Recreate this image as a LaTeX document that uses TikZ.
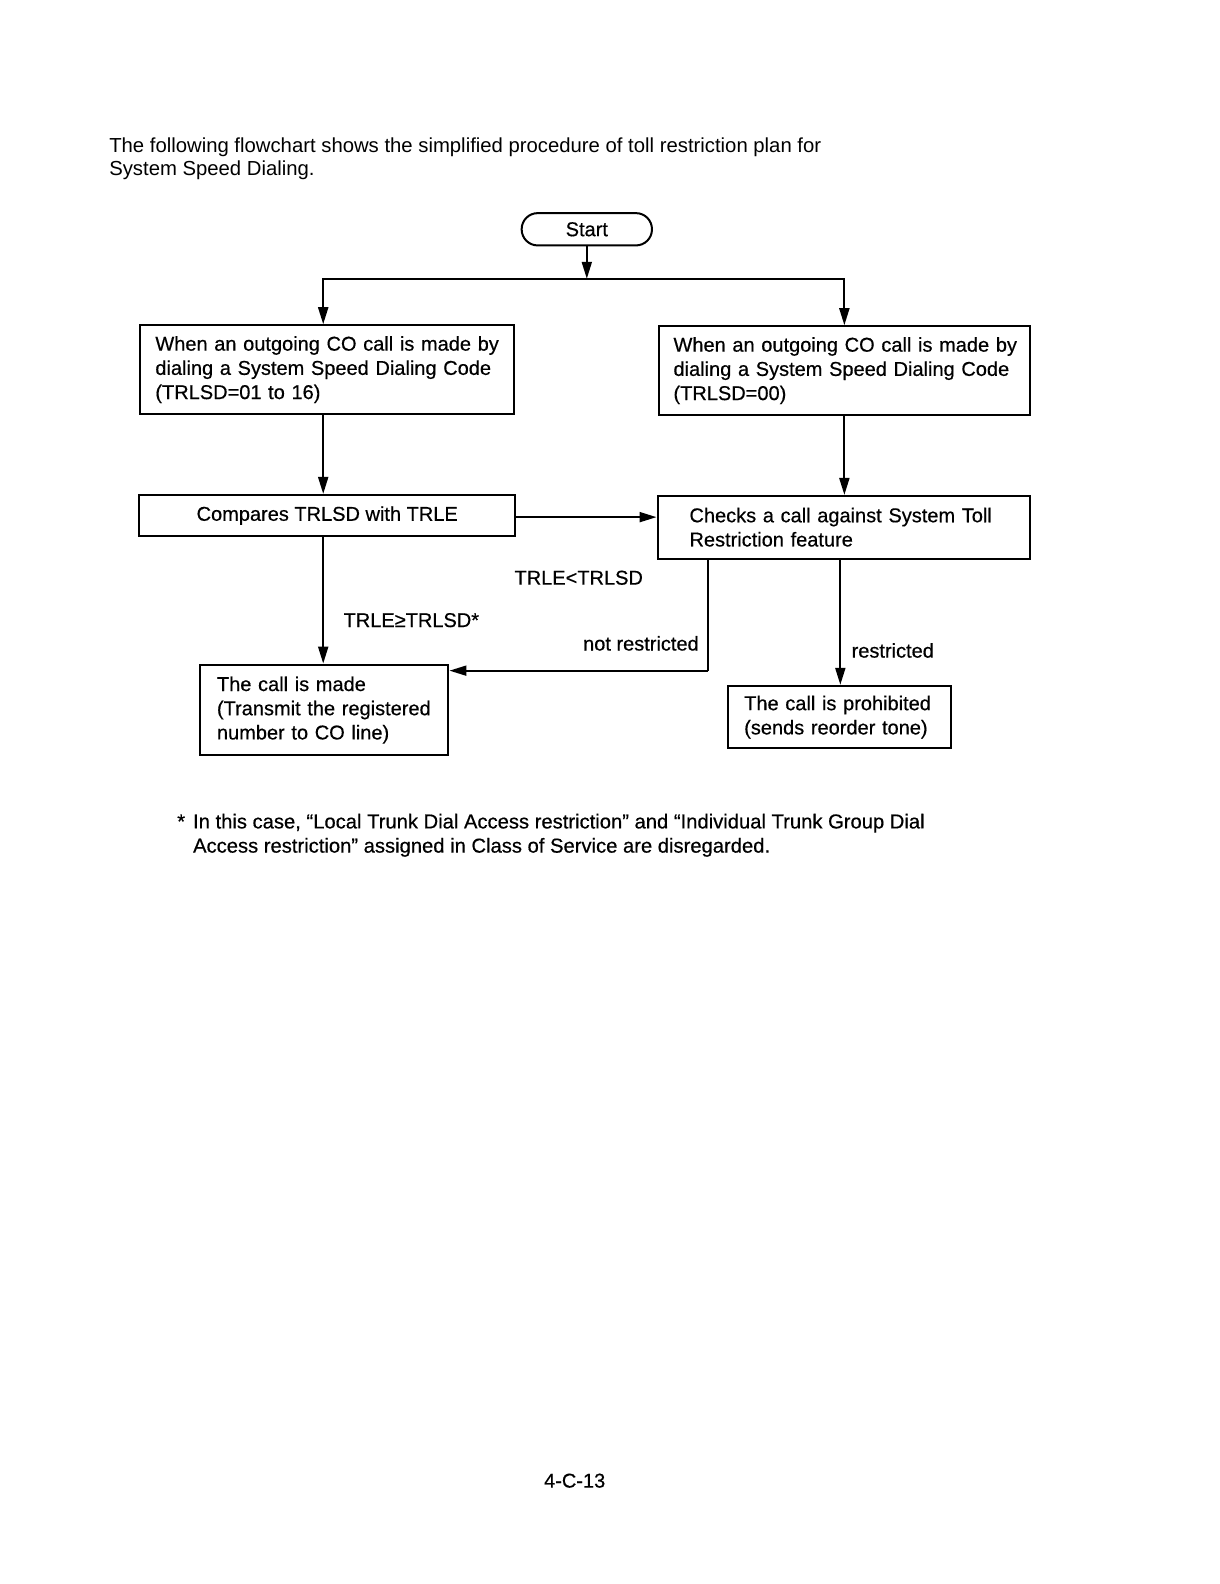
\documentclass[tikz,border=0pt]{standalone}
\usepackage{fontspec}
\setmainfont{Liberation Sans}
\newfontfamily\heavy[FakeBold=0.5]{Liberation Sans}
\usetikzlibrary{arrows.meta}
\newcommand{\ind}[1]{\hspace*{#1}}
\begin{document}
\begin{tikzpicture}[x=1.01pt,y=-1.01pt,
  font=\heavy\fontsize{20}{24.2}\selectfont,
  box/.style={draw,line width=2pt,rectangle,inner ysep=0pt,inner xsep=0pt,align=left,anchor=north west},
  arr/.style={line width=2pt,-{Triangle[length=17pt,width=10pt]}},
  lbl/.style={inner sep=0pt}]
\useasboundingbox (0,0) rectangle (1207.9,1568.3);
\node[lbl,anchor=west,align=left,font=\normalfont\fontsize{20.3}{23.3}\selectfont] (intro) at (108,157.5)
  {The following flowchart shows the simplified procedure of toll restriction plan for\\System Speed Dialing.};
\node[draw,line width=2pt,rounded corners=16pt,minimum width=130.3pt,minimum height=32.3pt,inner sep=0pt] (start) at (581,227) {Start};
\coordinate (split) at (581,276);
\node[box,minimum height=88.9pt,text width=373.7pt] (b1) at (138,321)
  {\ind{15pt}When an outgoing CO call is made by\\\ind{15pt}dialing a System Speed Dialing Code\\\ind{15pt}(TRLSD=01 to 16)};
\node[box,minimum height=88.9pt,text width=371.7pt] (r1) at (651,322)
  {\ind{15pt}When an outgoing CO call is made by\\\ind{15pt}dialing a System Speed Dialing Code\\\ind{15pt}(TRLSD=00)};
\node[box,minimum height=41.4pt,minimum width=375.7pt,align=center] (c1) at (137,489)
  {Compares TRLSD with TRLE};
\node[box,minimum height=62.6pt,text width=372.7pt] (r2) at (650,490)
  {\ind{32pt}Checks a call against System Toll\\\ind{32pt}Restriction feature};
\node[box,minimum height=90.9pt,text width=248.5pt] (m) at (197,657)
  {\ind{17pt}The call is made\\\ind{17pt}(Transmit the registered\\\ind{17pt}number to CO line)};
\node[box,minimum height=62.6pt,text width=223.2pt] (p) at (720,678)
  {\ind{16pt}The call is prohibited\\\ind{16pt}(sends reorder tone)};
\coordinate (nr) at (701,664);
% connectors
\draw[arr] (start.south) -- (split);
\draw[arr] (split) -| (320,321);
\draw[arr] (split) -| (r1.north);
\draw[arr] (b1.south -| 320,0) -- (c1.north -| 320,0);
\draw[arr] (r1.south) -- (r2.north -| r1.south);
\draw[arr] (c1.east |- 0,512) -- (r2.west |- 0,512);
\draw[arr] (c1.south -| 320,0) -- (m.north -| 320,0);
\draw[line width=2pt] (r2.south -| nr) -- (nr);
\draw[arr] (nr) -- (nr -| m.east);
\draw[arr] (r2.south -| 832,0) -- (p.north -| 832,0);
% labels
\node[lbl] (l1) at (573,572) {TRLE<TRLSD};
\node[lbl,anchor=west] (l2) at (340,614) {TRLE≥TRLSD*};
\node[lbl,anchor=east] (l3) at (692,637) {not restricted};
\node[lbl,anchor=west] (l4) at (843,644) {restricted};
% footnote
\node[lbl,anchor=west,align=left,font=\heavy\fontsize{20.2}{24.2}\selectfont] (fn) at (191,827)
  {\llap{*\hspace{8pt}}In this case, “Local Trunk Dial Access restriction” and “Individual Trunk Group Dial\\Access restriction” assigned in Class of Service are disregarded.};
\node[lbl] (pg) at (569,1466) {4-C-13};
\end{tikzpicture}
\end{document}
